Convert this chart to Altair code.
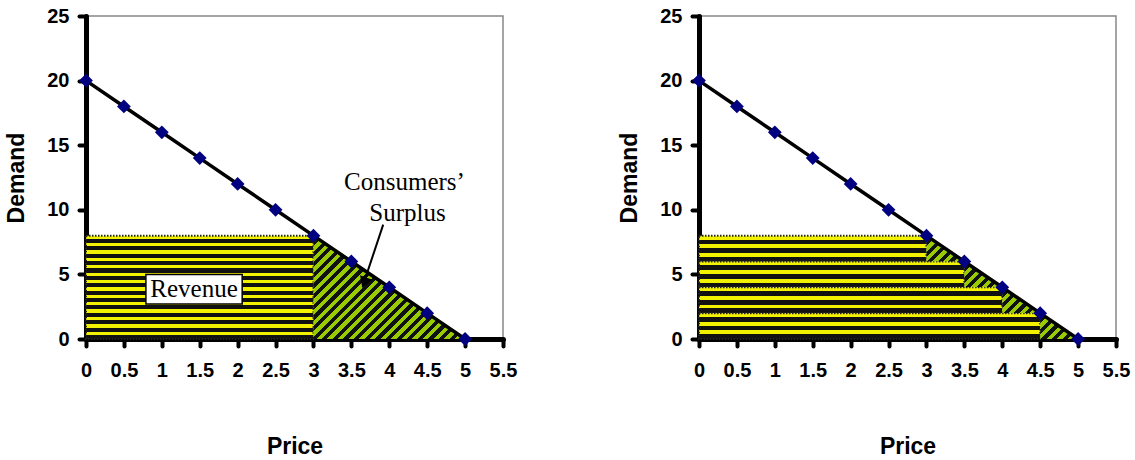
import math
import altair as alt
import pandas as pd

# ---------------- data ----------------
price = [0, 0.5, 1, 1.5, 2, 2.5, 3, 3.5, 4, 4.5, 5]
demand = [20, 18, 16, 14, 12, 10, 8, 6, 4, 2, 0]
x_ticks = [0, 0.5, 1, 1.5, 2, 2.5, 3, 3.5, 4, 4.5, 5, 5.5]
y_ticks = [0, 5, 10, 15, 20, 25]

# left panel: single price
rev_x = [0, 3]
rev_y = [0, 8]
surplus_x = [3, 5]
surplus_top = [8, 0]

# right panel: price steps
step_x1 = [3, 3.5, 4, 4.5]
step_y0 = [6, 4, 2, 0]
step_y1 = [8, 6, 4, 2]
step_next_x = [3.5, 4, 4.5, 5]

# annotations (data units)
rev_box = {"x": 0.79, "x2": 2.06, "y": 2.7, "y2": 5.0}
rev_label = {"x": 1.425, "y": 3.85, "text": "Revenue"}
cs_label1 = {"x": 4.2, "y": 12.15, "text": "Consumers’"}
cs_label2 = {"x": 4.24, "y": 9.75, "text": "Surplus"}
arrow = {"x": 3.92, "y": 8.85, "x2": 3.69, "y2": 4.8}
arrow_head = {"x": 3.67, "y": 4.35}

# ---------------- style ----------------
W, H = 417, 323
XMAX, YMAX = 5.5, 25
PX_X = W / XMAX
PX_Y = H / YMAX
PERIOD = 7.5
YELLOW = "#f2f200"
GREEN = "#99cc00"


def stripe_stops(c1, c2, n, frac):
    stops = []
    for i in range(n):
        a, b, c = i / n, (i + frac) / n, (i + 1) / n
        stops += [alt.GradientStop(offset=a, color=c1), alt.GradientStop(offset=b, color=c1),
                  alt.GradientStop(offset=b, color=c2), alt.GradientStop(offset=c, color=c2)]
    return stops


def hstripes(height_units):
    n = max(1, round(height_units * PX_Y / PERIOD))
    return alt.LinearGradient(gradient="linear", x1=0, y1=0, x2=0, y2=1,
                              stops=stripe_stops(YELLOW, "#111111", n, 0.45))


def dstripes(w_units, h_units):
    w, h = w_units * PX_X, h_units * PX_Y
    r = h / w
    k = (1 + r) / (1 + r * r)
    n = max(1, round((w + h) / math.sqrt(2) / PERIOD))
    return alt.LinearGradient(gradient="linear", x1=0, y1=0, x2=k, y2=k * r,
                              stops=stripe_stops(GREEN, "#111111", n, 0.5))


xs = alt.Scale(domain=[0, XMAX], nice=False, zero=False)
ys = alt.Scale(domain=[0, YMAX], nice=False)
x_axis = alt.Axis(values=x_ticks, tickCount=len(x_ticks) + 4, title="Price", format="~g",
                  labelFlush=False, labelOverlap=False, labelPadding=14, titlePadding=55)
y_axis = alt.Axis(values=y_ticks, tickCount=len(y_ticks) + 4, title="Demand", labelFlush=False,
                  labelOverlap=False, labelPadding=10, titlePadding=18)

curve = pd.DataFrame({"price": price, "demand": demand})


def base_layers():
    line = alt.Chart(curve).mark_line(color="black", strokeWidth=3.5).encode(
        x=alt.X("price:Q", scale=xs, axis=x_axis),
        y=alt.Y("demand:Q", scale=ys, axis=y_axis),
    )
    pts = alt.Chart(curve).mark_point(shape="diamond", filled=True, size=190,
                                      color="#000080", opacity=1).encode(
        x=alt.X("price:Q", scale=xs, axis=x_axis),
        y=alt.Y("demand:Q", scale=ys, axis=y_axis))
    return line, pts


# ---- left panel ----
rev_df = pd.DataFrame({"x": [rev_x[0]], "x2": [rev_x[1]], "y": [rev_y[0]], "y2": [rev_y[1]]})
rev = alt.Chart(rev_df).mark_rect(
    fill=hstripes(rev_y[1] - rev_y[0]), stroke="#222222", strokeWidth=2, strokeDash=[1.5, 1.5]
).encode(x=alt.X("x:Q", scale=xs, axis=x_axis), x2="x2:Q",
         y=alt.Y("y:Q", scale=ys, axis=y_axis), y2="y2:Q")

sur_df = pd.DataFrame({"price": surplus_x, "top": surplus_top, "base": [0, 0]})
sur = alt.Chart(sur_df).mark_area(
    fill=dstripes(surplus_x[1] - surplus_x[0], surplus_top[0])
).encode(x=alt.X("price:Q", scale=xs, axis=x_axis),
         y=alt.Y("top:Q", scale=ys, axis=y_axis), y2="base:Q")

box = alt.Chart(pd.DataFrame([rev_box])).mark_rect(
    fill="white", stroke="black", strokeWidth=1.5).encode(
    x=alt.X("x:Q", scale=xs, axis=x_axis), x2="x2:Q",
    y=alt.Y("y:Q", scale=ys, axis=y_axis), y2="y2:Q")
labels_df = pd.DataFrame([rev_label, cs_label1, cs_label2])
txt = alt.Chart(labels_df).mark_text(
    font="Liberation Serif", fontSize=25, color="black", baseline="middle", align="center"
).encode(x=alt.X("x:Q", scale=xs, axis=x_axis),
         y=alt.Y("y:Q", scale=ys, axis=y_axis), text="text:N")
arr = alt.Chart(pd.DataFrame([arrow])).mark_rule(color="black", strokeWidth=2).encode(
    x=alt.X("x:Q", scale=xs, axis=x_axis), x2="x2:Q",
    y=alt.Y("y:Q", scale=ys, axis=y_axis), y2="y2:Q")
head = alt.Chart(pd.DataFrame([arrow_head])).mark_point(
    shape="triangle-down", filled=True, size=170, angle=20, color="black", opacity=1
).encode(x=alt.X("x:Q", scale=xs, axis=x_axis), y=alt.Y("y:Q", scale=ys, axis=y_axis))

line_l, pts_l = base_layers()
left = alt.layer(rev, sur, line_l, pts_l, box, txt, arr, head).properties(width=W, height=H)

# ---- right panel ----
bands = []
for i in range(len(step_x1)):
    bdf = pd.DataFrame({"x": [0], "x2": [step_x1[i]], "y": [step_y0[i]], "y2": [step_y1[i]]})
    bands.append(alt.Chart(bdf).mark_rect(
        fill=hstripes(step_y1[i] - step_y0[i]), stroke="#222222", strokeWidth=2,
        strokeDash=[1.5, 1.5]
    ).encode(x=alt.X("x:Q", scale=xs, axis=x_axis), x2="x2:Q",
             y=alt.Y("y:Q", scale=ys, axis=y_axis), y2="y2:Q"))

tris = []
for i in range(len(step_x1)):
    tdf = pd.DataFrame({"price": [step_x1[i], step_next_x[i]],
                        "top": [step_y1[i], step_y0[i]],
                        "base": [step_y0[i], step_y0[i]]})
    tris.append(alt.Chart(tdf).mark_area(
        fill=dstripes(step_next_x[i] - step_x1[i], step_y1[i] - step_y0[i])
    ).encode(x=alt.X("price:Q", scale=xs, axis=x_axis),
             y=alt.Y("top:Q", scale=ys, axis=y_axis), y2="base:Q"))

line_r, pts_r = base_layers()
right = alt.layer(*bands, *tris, line_r, pts_r).properties(width=W, height=H)

chart = alt.hconcat(left, right, spacing=100).properties(
    padding={"left": 5, "top": 5, "right": 0, "bottom": 0}
).configure_view(
    stroke="#888888", strokeWidth=1.5
).configure_axis(
    domainColor="black", domainWidth=5, domainCap="round",
    tickColor="black", tickWidth=4, tickCap="round", tickSize=7,
    labelFont="Liberation Sans", labelFontWeight="bold", labelFontSize=20, labelColor="black",
    titleFont="Liberation Sans", titleFontWeight="bold", titleFontSize=23, titleColor="black",
    grid=False,
)

chart.save("out.html", embed_options={"renderer": "svg", "actions": False})
